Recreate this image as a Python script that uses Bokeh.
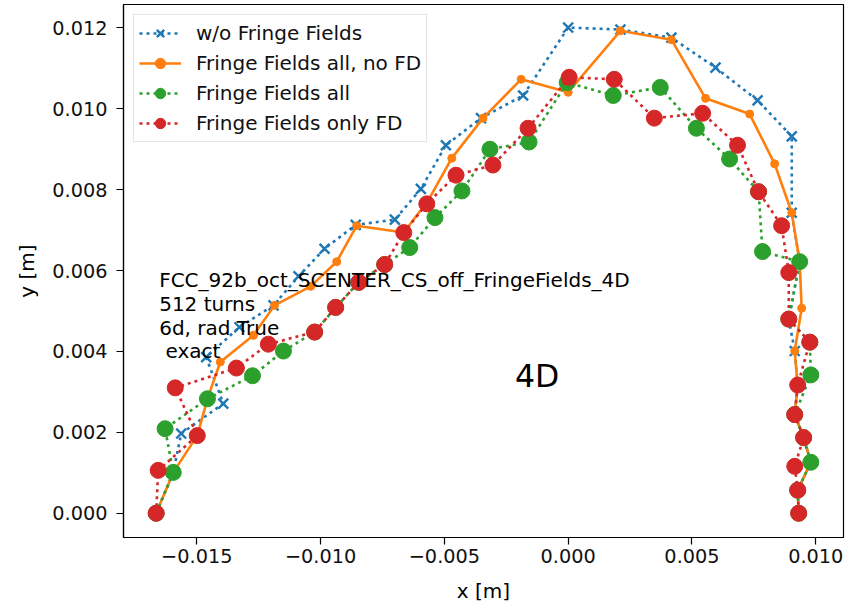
from bokeh.plotting import figure
from bokeh.models import FixedTicker, CustomJSTickFormatter, Range1d
from bokeh.core.properties import value
from bokeh.embed import file_html
from bokeh.resources import INLINE

# ---- data ----
blue_x = [-0.01664, -0.01595, -0.01563, -0.01393, -0.01462, -0.01328, -0.01190, -0.01089, -0.00984, -0.00858,
          -0.00700, -0.00595, -0.00494, -0.00352, -0.00182, 0.0, 0.00211, 0.00417, 0.00595, 0.00765,
          0.00903, 0.00903, 0.00935, 0.00891, 0.00915, 0.00927, 0.00915, 0.00951, 0.00980, 0.00927, 0.00931]
blue_y = [0.0, 0.00101, 0.00197, 0.00271, 0.00386, 0.00460, 0.00514, 0.00586, 0.00654, 0.00713,
          0.00726, 0.00802, 0.00910, 0.00977, 0.01033, 0.01201, 0.01196, 0.01176, 0.01102, 0.01021,
          0.00932, 0.00743, 0.00622, 0.00480, 0.00401, 0.00317, 0.00244, 0.00187, 0.00126, 0.00057, 0.0]

orange_x = [-0.01664, -0.01595, -0.01498, -0.01457, -0.01405, -0.01271, -0.01186, -0.01040, -0.00935, -0.00854,
            -0.00664, -0.00567, -0.00470, -0.00344, -0.00190, 0.0, 0.00211, 0.00417, 0.00555, 0.00733,
            0.00834, 0.00903, 0.00935, 0.00943, 0.00915, 0.00927, 0.00915, 0.00951, 0.00980, 0.00927, 0.00931]
orange_y = [0.0, 0.00101, 0.00192, 0.00283, 0.00374, 0.00440, 0.00514, 0.00561, 0.00622, 0.00711,
            0.00694, 0.00772, 0.00878, 0.00977, 0.01073, 0.01041, 0.01193, 0.01171, 0.01026, 0.00987,
            0.00864, 0.00743, 0.00622, 0.00507, 0.00401, 0.00317, 0.00244, 0.00187, 0.00126, 0.00057, 0.0]

green_x = [-0.01664, -0.01595, -0.01628, -0.01457, -0.01275, -0.01150, -0.01024, -0.00939, -0.00846, -0.00741,
           -0.00640, -0.00538, -0.00429, -0.00316, -0.00158, -0.00004, 0.00182, 0.00372, 0.00518, 0.00652,
           0.00769, 0.00785, 0.00935, 0.00891, 0.00976, 0.00980, 0.00915, 0.00951, 0.00980, 0.00927, 0.00931]
green_y = [0.0, 0.00101, 0.00209, 0.00283, 0.00340, 0.00401, 0.00448, 0.00509, 0.00571, 0.00615,
           0.00657, 0.00731, 0.00797, 0.00900, 0.00918, 0.01065, 0.01033, 0.01053, 0.00952, 0.00876,
           0.00795, 0.00647, 0.00622, 0.00480, 0.00423, 0.00342, 0.00244, 0.00187, 0.00126, 0.00057, 0.0]

red_x = [-0.01664, -0.01656, -0.01498, -0.01587, -0.01340, -0.01211, -0.01024, -0.00939, -0.00846, -0.00741,
         -0.00664, -0.00571, -0.00453, -0.00304, -0.00162, 0.00004, 0.00186, 0.00348, 0.00543, 0.00684,
         0.00769, 0.00862, 0.00891, 0.00891, 0.00976, 0.00927, 0.00915, 0.00951, 0.00915, 0.00927, 0.00931]
red_y = [0.0, 0.00106, 0.00192, 0.00310, 0.00359, 0.00418, 0.00448, 0.00509, 0.00571, 0.00615,
         0.00694, 0.00765, 0.00836, 0.00861, 0.00952, 0.01078, 0.01073, 0.00977, 0.00989, 0.00910,
         0.00795, 0.00711, 0.00595, 0.00480, 0.00423, 0.00317, 0.00244, 0.00187, 0.00116, 0.00057, 0.0]

series_labels = ["w/o Fringe Fields", "Fringe Fields all, no FD", "Fringe Fields all", "Fringe Fields only FD"]
x_ticks = [-0.015, -0.010, -0.005, 0.0, 0.005, 0.010]
y_ticks = [0.0, 0.002, 0.004, 0.006, 0.008, 0.010, 0.012]
info_text = "FCC_92b_oct_SCENTER_CS_off_FringeFields_4D\n512 turns\n6d, rad True\n\u00a0exact"
mode_text = "4D"

FONT = "DejaVu Sans"
C_BLUE, C_ORANGE, C_GREEN, C_RED = "#1f77b4", "#ff7f0e", "#2ca02c", "#d62728"

p = figure(width=850, height=605, output_backend="svg", toolbar_location=None,
           x_range=Range1d(-0.01796, 0.01112), y_range=Range1d(-0.0006, 0.01258),
           min_border_left=123, min_border_right=7, min_border_top=4, min_border_bottom=66)
p.background_fill_color = "white"
p.border_fill_color = "white"
p.outline_line_color = "black"
p.outline_line_width = 1.2
p.xgrid.visible = False
p.ygrid.visible = False

DOT = "3 4"
# blue
p.line(blue_x, blue_y, color=C_BLUE, line_width=2.6, line_dash=DOT, legend_label=series_labels[0])
p.scatter(blue_x, blue_y, marker="x", size=14, line_color=C_BLUE, line_width=2.4, legend_label=series_labels[0])
# orange
p.line(orange_x, orange_y, color=C_ORANGE, line_width=2.6, legend_label=series_labels[1])
p.scatter(orange_x, orange_y, marker="circle", size=8, color=C_ORANGE, legend_label=series_labels[1])
# green
p.line(green_x, green_y, color=C_GREEN, line_width=2.6, line_dash=DOT, legend_label=series_labels[2])
p.scatter(green_x, green_y, marker="circle", size=16, color=C_GREEN, legend_label=series_labels[2])
# red
p.line(red_x, red_y, color=C_RED, line_width=2.6, line_dash=DOT, legend_label=series_labels[3])
p.scatter(red_x, red_y, marker="circle", size=16, color=C_RED, legend_label=series_labels[3])

p.text(x=[-0.01652], y=[0.00606], text=[info_text], text_font=value(FONT), text_font_size="20px",
       text_color="black", text_align="left", text_baseline="top", text_line_height=0.99)
p.text(x=[-0.00125], y=[0.00340], text=[mode_text], text_font=value(FONT), text_font_size="31.5px",
       text_color="black", text_align="center", text_baseline="middle")

fmt = CustomJSTickFormatter(code="""
var t = Math.abs(tick) < 1e-12 ? 0 : tick;
var s = t.toFixed(3);
return s.replace('-', '\\u2212');
""")

for ax, ticks, lab in ((p.xaxis[0], x_ticks, "x [m]"), (p.yaxis[0], y_ticks, "y [m]")):
    ax.ticker = FixedTicker(ticks=ticks)
    ax.formatter = fmt
    ax.axis_label = lab
    ax.axis_label_text_font = FONT
    ax.axis_label_text_font_size = "20px"
    ax.axis_label_text_font_style = "normal"
    ax.axis_label_text_color = "black"
    ax.major_label_text_font = FONT
    ax.major_label_text_font_size = "19.3px"
    ax.major_label_text_color = "#111111"
    ax.major_tick_out = 7
    ax.major_tick_in = 0
    ax.minor_tick_out = 0
    ax.minor_tick_in = 0
    ax.major_tick_line_color = "black"
    ax.major_tick_line_width = 1.2
    ax.axis_line_color = "black"
    ax.axis_line_width = 1.2

p.xaxis[0].major_label_standoff = 4
p.xaxis[0].axis_label_standoff = 13
p.yaxis[0].major_label_standoff = 9
p.yaxis[0].axis_label_standoff = 10

lg = p.legend[0]
lg.location = "top_left"
lg.margin = 10
lg.padding = 5
lg.spacing = 4
lg.glyph_width = 42
lg.glyph_height = 26
lg.label_height = 26
lg.label_standoff = 15
lg.label_text_font = FONT
lg.label_text_font_size = "20px"
lg.label_text_color = "#111111"
lg.border_line_color = "#cccccc"
lg.border_line_width = 1
lg.background_fill_color = "white"
lg.background_fill_alpha = 0.8

open("out.html", "w").write(file_html(p, INLINE))
